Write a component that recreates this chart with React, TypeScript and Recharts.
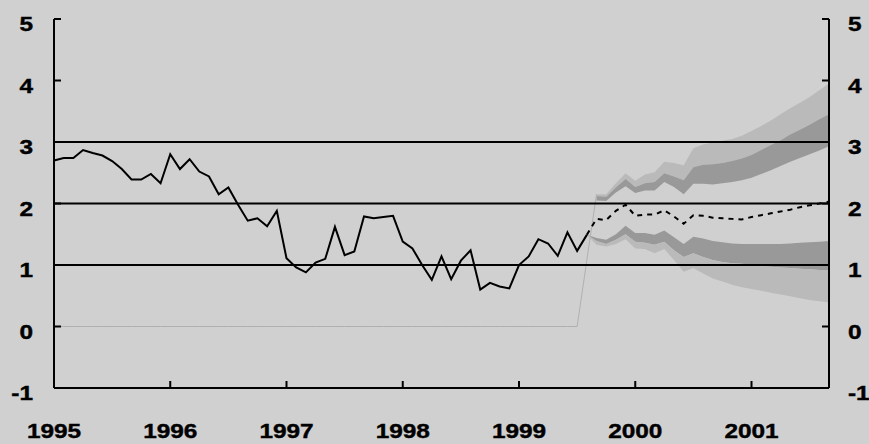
import React from "react";
import {
  ComposedChart,
  XAxis,
  YAxis,
  Line,
  Area,
  ReferenceLine,
} from "recharts";

// months counted from Jan 1995 (0) to Sep 2001 (80)
const yearLabels = ["1995", "1996", "1997", "1998", "1999", "2000", "2001"];
const yearTicks = [0, 12, 24, 36, 48, 60, 72];
const valueTicks = [-1, 0, 1, 2, 3, 4, 5];
const gridValues = [1, 2, 3];

// outturn, Jan 1995 - Aug 1999
const outturn = [
  2.7, 2.74, 2.74, 2.87, 2.82, 2.78, 2.69, 2.56, 2.39, 2.39, 2.48, 2.33,
  2.8, 2.56, 2.72, 2.52, 2.44, 2.15, 2.26, 1.98, 1.72, 1.76, 1.63, 1.88,
  1.11, 0.96, 0.88, 1.04, 1.1, 1.62, 1.16, 1.22, 1.79, 1.76, 1.78, 1.8,
  1.38, 1.27, 1.0, 0.76, 1.14, 0.77, 1.07, 1.24, 0.6, 0.71, 0.65, 0.62,
  1.0, 1.14, 1.42, 1.35, 1.15, 1.53, 1.23, 1.49,
];

// projection, Aug 1999 - Sep 2001
const forecastStart = 55;
const central = [
  1.49, 1.75, 1.73, 1.88, 1.98, 1.8, 1.82, 1.82, 1.89, 1.79, 1.67, 1.81, 1.8,
  1.77, 1.76, 1.75, 1.74, 1.78, 1.81, 1.84, 1.87, 1.9, 1.94, 1.97, 2.0, 2.03,
];
const upperOuter = [
  null, 2.15, 2.15, 2.33, 2.49, 2.37, 2.47, 2.51, 2.68, 2.66, 2.62, 2.9, 2.96,
  2.99, 3.02, 3.05, 3.1, 3.18, 3.26, 3.35, 3.45, 3.55, 3.64, 3.73, 3.84, 3.95,
];
const upperMid = [
  null, 2.12, 2.11, 2.26, 2.4, 2.27, 2.33, 2.35, 2.49, 2.44, 2.38, 2.59, 2.63,
  2.64, 2.66, 2.69, 2.73, 2.79, 2.87, 2.95, 3.03, 3.12, 3.2, 3.28, 3.37, 3.45,
];
const upperInner = [
  null, 2.05, 2.04, 2.18, 2.28, 2.17, 2.21, 2.21, 2.35, 2.27, 2.15, 2.32, 2.32,
  2.31, 2.33, 2.35, 2.38, 2.42, 2.48, 2.54, 2.61, 2.68, 2.74, 2.8, 2.86, 2.93,
];
const lowerInner = [
  1.49, 1.44, 1.41, 1.5, 1.64, 1.52, 1.52, 1.49, 1.56, 1.45, 1.34, 1.46, 1.43,
  1.39, 1.37, 1.35, 1.34, 1.34, 1.34, 1.34, 1.34, 1.35, 1.36, 1.37, 1.38, 1.39,
];
const lowerMid = [
  1.49, 1.39, 1.34, 1.41, 1.5, 1.38, 1.36, 1.33, 1.38, 1.24, 1.13, 1.19, 1.13,
  1.08, 1.05, 1.03, 1.02, 1.0, 0.98, 0.97, 0.96, 0.95, 0.94, 0.93, 0.92, 0.91,
];
const lowerOuter = [
  1.49, 1.33, 1.3, 1.34, 1.42, 1.27, 1.26, 1.19, 1.26, 1.08, 0.89, 0.95, 0.86,
  0.78, 0.73, 0.68, 0.64, 0.61, 0.58, 0.55, 0.52, 0.49, 0.46, 0.43, 0.41, 0.39,
];

const PLOT_LEFT = 54;
const PLOT_RIGHT = 829;
const PLOT_BOTTOM = 388;
const BG = "#d0d0d0";
const LIGHT = "#bababa";
const DARK = "#999999";
const FONT = "'Liberation Sans', Arial, sans-serif";

const data = Array.from({ length: 81 }, (_, i) => {
  const f = i - forecastStart;
  const has = (arr: (number | null)[]) => f >= 0 && arr[f] != null;
  return {
    m: i,
    outturn: i < outturn.length ? outturn[i] : null,
    central: has(central) ? central[f] : null,
    upperLight: has(upperOuter) ? [upperMid[f], upperOuter[f]] : null,
    upperDark: has(upperMid) ? [upperInner[f], upperMid[f]] : null,
    lowerDark: has(lowerInner) ? [lowerMid[f], lowerInner[f]] : null,
    lowerLight: has(lowerMid) ? [lowerOuter[f], lowerMid[f]] : null,
    guide: i < forecastStart ? 0 : i === forecastStart + 1 ? upperOuter[1] : null,
  };
});

function Label({ tx, ty, anchor, children }: any) {
  return (
    <text
      transform={`translate(${tx},${ty}) scale(1.25,1)`}
      textAnchor={anchor}
      fontFamily={FONT}
      fontWeight="bold"
      fontSize={19.5}
      fill="#000"
      stroke="#000"
      strokeWidth={0.4}
    >
      {children}
    </text>
  );
}

function LeftTick(props: any) {
  const { y, payload } = props;
  return (
    <g>
      {payload.value !== -1 && (
        <line x1={PLOT_LEFT} x2={PLOT_LEFT + 7} y1={y} y2={y} stroke="#000" strokeWidth={2} />
      )}
      <Label tx={33} ty={y + 12} anchor="end">
        {payload.value}
      </Label>
    </g>
  );
}

function RightTick(props: any) {
  const { y, payload } = props;
  return (
    <g>
      {payload.value !== -1 && (
        <line x1={PLOT_RIGHT - 7} x2={PLOT_RIGHT} y1={y} y2={y} stroke="#000" strokeWidth={2} />
      )}
      <Label tx={848} ty={y + 12} anchor="start">
        {payload.value}
      </Label>
    </g>
  );
}

function YearTick(props: any) {
  const { x, index } = props;
  return (
    <g>
      {index > 0 && (
        <line x1={x} x2={x} y1={PLOT_BOTTOM - 7} y2={PLOT_BOTTOM} stroke="#000" strokeWidth={2} />
      )}
      <Label tx={x} ty={438} anchor="middle">
        {yearLabels[index]}
      </Label>
    </g>
  );
}

export default function App() {
  return (
    <div style={{ position: "fixed", left: 0, top: 0, width: 869, height: 444, background: BG }}>
      <ComposedChart
        width={869}
        height={444}
        data={data}
        margin={{ top: 19, right: 0, bottom: 0, left: 0 }}
      >
        <XAxis
          dataKey="m"
          type="number"
          domain={[0, 80]}
          ticks={yearTicks}
          height={56}
          axisLine={{ stroke: "#000", strokeWidth: 2 }}
          tickLine={false}
          tick={<YearTick />}
          interval={0}
        />
        <YAxis
          yAxisId="left"
          domain={[-1, 5]}
          ticks={valueTicks}
          width={54}
          axisLine={{ stroke: "#000", strokeWidth: 2 }}
          tickLine={false}
          tick={<LeftTick />}
          interval={0}
        />
        <YAxis
          yAxisId="right"
          orientation="right"
          domain={[-1, 5]}
          ticks={valueTicks}
          width={40}
          axisLine={{ stroke: "#000", strokeWidth: 2 }}
          tickLine={false}
          tick={<RightTick />}
          interval={0}
        />
        <Area yAxisId="left" dataKey="upperLight" stroke="none" fill={LIGHT} fillOpacity={1} isAnimationActive={false} />
        <Area yAxisId="left" dataKey="upperDark" stroke="none" fill={DARK} fillOpacity={1} isAnimationActive={false} />
        <Area yAxisId="left" dataKey="lowerDark" stroke="none" fill={DARK} fillOpacity={1} isAnimationActive={false} />
        <Area yAxisId="left" dataKey="lowerLight" stroke="none" fill={LIGHT} fillOpacity={1} isAnimationActive={false} />
        <Line
          yAxisId="left"
          dataKey="guide"
          stroke="#b0b0b0"
          strokeWidth={1}
          dot={false}
          connectNulls
          isAnimationActive={false}
        />
        {gridValues.map((v) => (
          <ReferenceLine key={v} yAxisId="left" y={v} stroke="#000" strokeWidth={2} />
        ))}
        <Line
          yAxisId="left"
          dataKey="outturn"
          stroke="#000"
          strokeWidth={2}
          dot={false}
          isAnimationActive={false}
        />
        <Line
          yAxisId="right"
          dataKey="central"
          stroke="#000"
          strokeWidth={2}
          strokeDasharray="5 5"
          dot={false}
          isAnimationActive={false}
        />
      </ComposedChart>
    </div>
  );
}
